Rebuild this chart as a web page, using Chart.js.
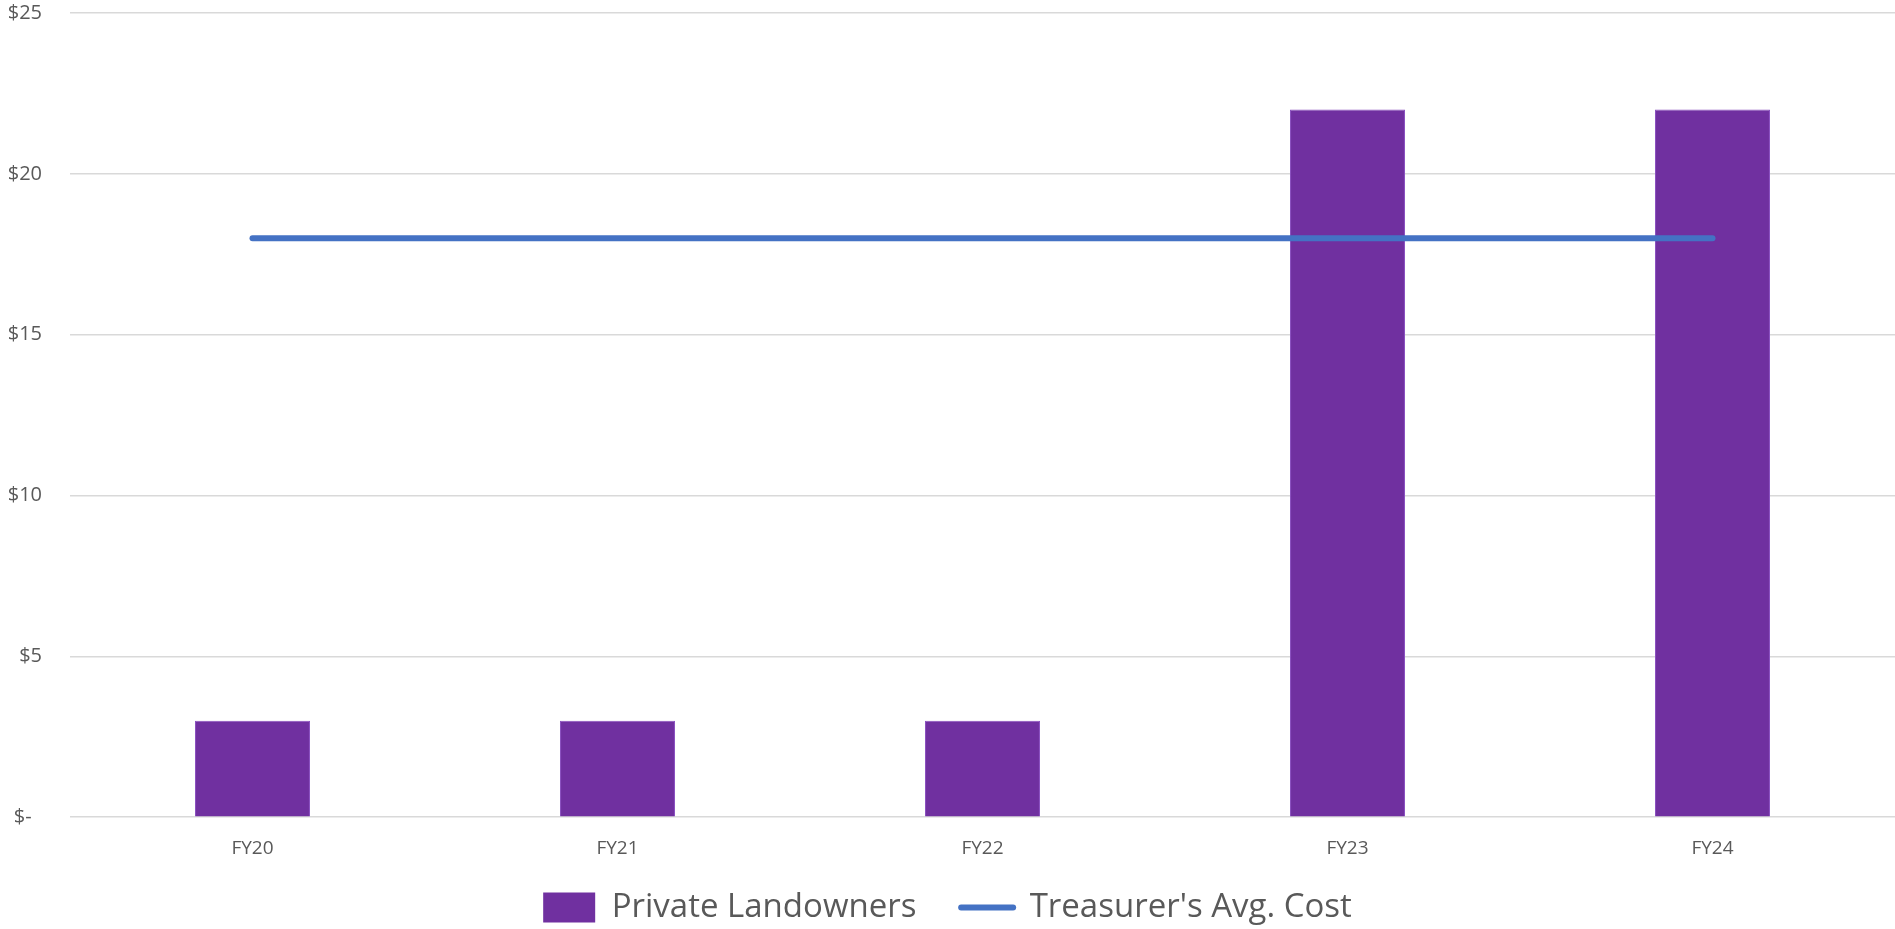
<!DOCTYPE html>
<html><head><meta charset="utf-8">
<script src="https://cdn.jsdelivr.net/npm/chart.js@4/dist/chart.umd.min.js"></script>
<style>html,body{margin:0;padding:0;background:#fff;overflow:hidden;}#c{display:block;}</style>
</head><body>
<canvas id="c" width="1895" height="929"></canvas>
<script>
const categories = ['FY20', 'FY21', 'FY22', 'FY23', 'FY24'];
const privateLandowners = [3, 3, 3, 22, 22];
const treasurerAvgCost = [18, 18, 18, 18, 18];
const yTicks = [0, 5, 10, 15, 20, 25];

const font = "'Open Sans', sans-serif";

new Chart(document.getElementById('c'), {
  data: {
    labels: categories,
    datasets: [
      {
        type: 'line', label: "Treasurer's Avg. Cost", data: treasurerAvgCost,
        borderColor: '#4472C4', backgroundColor: '#4472C4', borderWidth: 6,
        borderCapStyle: 'round', pointRadius: 0, pointHoverRadius: 0, order: 1
      },
      {
        type: 'bar', label: 'Private Landowners', data: privateLandowners,
        backgroundColor: '#7030A0', borderColor: '#8a4fc0', borderWidth: 1,
        categoryPercentage: 1, barPercentage: 0.315, order: 2
      }
    ]
  },
  options: {
    responsive: false, animation: false,
    layout: { padding: { top: 0, right: 0, bottom: -5, left: 0 } },
    plugins: {
      tooltip: { enabled: false },
      legend: {
        position: 'bottom',
        labels: {
          font: { family: font, size: 33 },
          color: '#595959',
          usePointStyle: true,
          pointStyleWidth: 52,
          boxHeight: 30,
          padding: 19,
          generateLabels(chart) {
            const ds = chart.data.datasets;
            return [
              { text: ds[1].label + '   ', fillStyle: '#7030A0', strokeStyle: '#7030A0', lineWidth: 0, pointStyle: 'rect', datasetIndex: 1, fontColor: '#595959' },
              { text: ds[0].label, fillStyle: '#4472C4', strokeStyle: '#4472C4', lineWidth: 6, lineCap: 'round', pointStyle: 'line', datasetIndex: 0, fontColor: '#595959' }
            ];
          }
        }
      }
    },
    scales: {
      x: {
        grid: { display: false },
        border: { display: false },
        ticks: { font: { family: font, size: 19 }, color: '#595959', padding: 12 }
      },
      y: {
        min: 0, max: 25,
        afterBuildTicks(scale) { scale.ticks = yTicks.map(v => ({ value: v })); },
        afterFit(scale) { scale.width = 70; scale.paddingTop = 13; scale.paddingBottom = 0; },
        grid: { color: '#d9d9d9', lineWidth: 1.5, drawTicks: false },
        border: { display: false },
        ticks: {
          font: { family: font, size: 20 }, color: '#595959', padding: 28,
          callback: v => v === 0 ? '$-  ' : '$' + v
        }
      }
    }
  }
});
</script>
</body></html>
